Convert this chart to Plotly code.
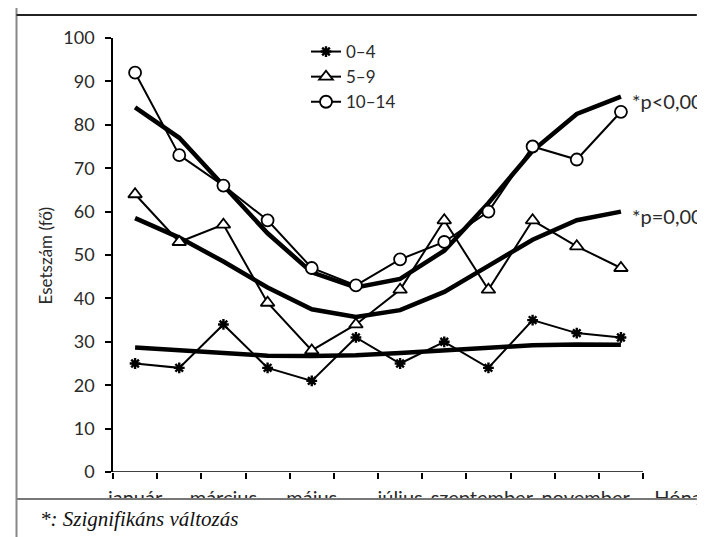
import plotly.graph_objects as go

months = list(range(1, 13))
tick_positions = [1, 3, 5, 7, 8.85, 11.2, 13.42]
tick_labels = ["január", "március", "május", "július", "szeptember", "november", "Hónap"]
boundaries = [m - 0.5 for m in range(1, 14)]

series_names = ["0–4", "5–9", "10–14"]
age_0_4 = [25, 24, 34, 24, 21, 31, 25, 30, 24, 35, 32, 31]
age_5_9 = [64, 53, 57, 39, 28, 34, 42, 58, 42, 58, 52, 47]
age_10_14 = [92, 73, 66, 58, 47, 43, 49, 53, 60, 75, 72, 83]

trend_0_4 = [28.7, 28.0, 27.3, 26.8, 26.7, 26.9, 27.4, 28.0, 28.7, 29.2, 29.4, 29.3]
trend_5_9 = [58.5, 54.0, 48.5, 42.5, 37.5, 35.7, 37.3, 41.5, 47.5, 53.5, 58.0, 60.0]
trend_10_14 = [84.0, 77.0, 66.0, 55.0, 46.0, 42.5, 44.5, 51.0, 62.0, 74.0, 82.5, 86.5]

sig_labels = ["*p<0,001", "*p=0,002"]
sig_positions = [85.5, 59]

SANS = "Lato, 'Open Sans', sans-serif"
fig = go.Figure()

for tr in [trend_0_4, trend_5_9, trend_10_14]:
    fig.add_trace(go.Scatter(x=months, y=tr, mode="lines", showlegend=False,
                             line=dict(color="black", width=4.5),
                             hoverinfo="skip"))

fig.add_trace(go.Scatter(x=months, y=age_0_4, mode="lines+markers", name=series_names[0],
                         line=dict(color="black", width=2),
                         marker=dict(symbol="asterisk-open", size=9, color="black",
                                     line=dict(color="black", width=2.4))))
fig.add_trace(go.Scatter(x=months, y=age_5_9, mode="lines+markers", name=series_names[1],
                         line=dict(color="black", width=2),
                         marker=dict(symbol="triangle-up", size=12, color="white",
                                     line=dict(color="black", width=1.8))))
fig.add_trace(go.Scatter(x=months, y=age_10_14, mode="lines+markers", name=series_names[2],
                         line=dict(color="black", width=2),
                         marker=dict(symbol="circle", size=12, color="white",
                                     line=dict(color="black", width=1.8))))

L, R, T, B = 105, 0, 30, 73
W, H = 705, 537
pw, ph = W - L - R, H - T - B
UNIT = 45.77
x_max = 0.5 + pw / UNIT

def px_x(p):
    return (p - L) / pw

def px_y(p):
    return (H - B - p) / ph

fig.update_layout(
    width=W, height=H,
    margin=dict(l=L, r=R, t=T, b=B),
    paper_bgcolor="white", plot_bgcolor="white",
    font=dict(family=SANS, size=17, color="#2a2a2a"),
    showlegend=True,
    legend=dict(x=px_x(305), y=px_y(26), xanchor="left", yanchor="top",
                bgcolor="rgba(0,0,0,0)", font=dict(size=17, color="#2a2a2a"),
                tracegroupgap=0),
    xaxis=dict(range=[0.5, x_max], showline=False, showgrid=False, zeroline=False,
               tickmode="array", tickvals=tick_positions, ticktext=tick_labels,
               ticks="", tickfont=dict(size=20, color="#2a2a2a"),
               ticklabelstandoff=12, ticklabeloverflow="allow",
               minor=dict(tickmode="array", tickvals=boundaries, ticks="outside",
                          ticklen=6, tickwidth=1.5, tickcolor="black", showgrid=False)),
    yaxis=dict(range=[0, 100], showline=True, linecolor="black", linewidth=1.5,
               showgrid=False, zeroline=False, tickmode="array",
               tickvals=list(range(0, 101, 10)), ticks="outside", ticklen=6,
               tickwidth=1.5, tickcolor="black", ticklabelstandoff=7,
               tickfont=dict(size=18, color="#2a2a2a")),
    shapes=[
        dict(type="line", xref="x", yref="y", x0=0.5, x1=12.5, y0=0, y1=0,
             line=dict(color="black", width=1.5), layer="above"),
        dict(type="rect", xref="paper", yref="paper", x0=px_x(6), x1=px_x(710),
             y0=px_y(491), y1=px_y(560), fillcolor="white", line=dict(width=0), layer="above"),
        dict(type="line", xref="paper", yref="paper", x0=px_x(5), x1=px_x(710),
             y0=px_y(491), y1=px_y(491), line=dict(color="#777777", width=1.8), layer="above"),
        dict(type="line", xref="paper", yref="paper", x0=px_x(5), x1=px_x(5),
             y0=px_y(-5), y1=px_y(545), line=dict(color="#888888", width=2), layer="above"),
        dict(type="line", xref="paper", yref="paper", x0=px_x(5), x1=px_x(710),
             y0=px_y(7), y1=px_y(7), line=dict(color="#222222", width=2), layer="above"),
    ],
    annotations=[
        dict(text="Esetszám (fő)", xref="paper", yref="paper", x=px_x(35), y=0.5,
             xanchor="center", yanchor="middle",
             textangle=-90, showarrow=False, font=dict(size=17, color="#2a2a2a")),
        dict(text=sig_labels[0], xref="paper", yref="y", x=px_x(641), y=sig_positions[0],
             xanchor="left", yanchor="middle", showarrow=False,
             font=dict(size=20, color="#2a2a2a")),
        dict(text=sig_labels[1], xref="paper", yref="y", x=px_x(641), y=sig_positions[1],
             xanchor="left", yanchor="middle", showarrow=False,
             font=dict(size=20, color="#2a2a2a")),
        dict(text="*: Szignifikáns változás", xref="paper", yref="paper", x=px_x(27),
             y=px_y(511), xanchor="left", yanchor="middle", showarrow=False,
             font=dict(family="'Liberation Serif', serif", size=21, color="#111111",
                       style="italic")),
    ],
)

fig.write_html("out.html")
